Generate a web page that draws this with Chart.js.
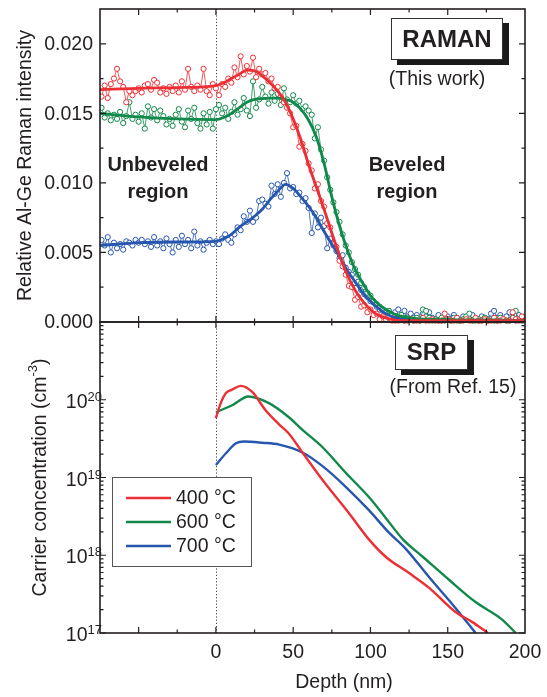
<!DOCTYPE html>
<html>
<head>
<meta charset="utf-8">
<script src="https://cdn.jsdelivr.net/npm/chart.js@4.4.1/dist/chart.umd.min.js"></script>
<style>
  html, body { margin: 0; padding: 0; background: #fff; }
  #wrap { position: relative; width: 547px; height: 697px; }
  #wrap canvas { position: absolute; left: 0; top: 0; }
</style>
</head>
<body>
<div id="wrap">
  <canvas id="raman-chart" width="547" height="697"></canvas>
  <canvas id="srp-chart" width="547" height="697"></canvas>
</div>
<script>
// ---- Raman panel: relative Al-Ge intensity, stored in units of 0.001 ----
const ramanDepth = [-74,-72,-70,-68,-66,-64,-62,-60,-58,-56,-54,-52,-50,-48,-46,-44,-42,-40,-38,-36,
  -34,-32,-30,-28,-26,-24,-22,-20,-18,-16,-14,-12,-10,-8,-6,-4,-2,
  0,2,4,6,8,10,12,14,16,18,20,22,24,26,28,30,32,34,36,38,40,42,44,46,48,50,52,54,56,58,
  60,62,64,66,68,70,72,74,76,78,80,82,84,86,88,90,92,94,96,98,100,102,104,106,108,110,112,114,116,118,
  120,122,124,126,128,130,132,134,136,138,140,142,144,146,148,150,152,154,156,158,160,162,164,166,168,170,
  172,174,176,178,180,182,184,186,188,190,192,194,196,198,200];

const raman400 = [16.2,17.0,16.1,17.1,17.5,18.2,17.3,16.9,15.8,16.6, 16.3,16.6,16.8,16.5,17.0,17.1,16.7,17.4,17.2,16.5,
  16.8,16.4,16.9,16.6,17.0,16.5,17.3,16.7,18.2,16.9, 16.6,17.0,16.7,18.2,16.6,16.3,17.1,
  16.8,16.3,17.1,16.9,17.5,17.2,18.3,17.6,19.1,17.8,18.4,18.0,19.0,17.6,18.2,17.8,
  17.9,17.3,17.5,16.8,16.9,16.2,15.8,15.4,15.0,14.0, 14.1,12.6,12.8,12.3,11.4,10.9,9.6,9.9,8.7,8.3,
  7.1,6.8,5.6,5.4,4.4,4.0,3.4,2.6,2.5,1.6, 1.8,1.1,1.2,0.7,0.9,0.5,0.6,0.2,0.4,0.2, 0.3,0.1,
  0.1,0.1,0.3,0.1,0.1,0.2,0.1,0.1,0.1,0.3, 0.1,0.1,0.2,0.1,0.1,0.1,0.6,0.2,0.1,0.1,
  0.3,0.1,0.1,0.2,0.1,0.1,0.3,0.1,0.1,0.2, 0.1,0.1,0.3,0.1,0.1,0.2,0.1,0.1,0.7,0.2, 0.1,0.4,0.1];

const raman600 = [15.4,14.7,15.0,14.5,14.9,14.6,15.1,14.3,14.8,15.8, 14.6,14.9,14.4,15.0,13.9,15.5,14.7,15.3,14.5,15.2,
  14.8,14.2,14.6,14.1,14.9,15.3,14.4,14.0,15.2,14.6, 15.4,14.3,13.9,15.0,14.2,15.1,13.9,
  15.3,15.6,15.0,15.4,14.6,15.1,15.8,14.9,15.3,16.1, 15.2,14.8,17.3,15.4,16.0,16.9,16.2,15.7,16.5,15.9, 16.4,
  15.6,16.8,16.0,15.8,16.3,15.7,15.9,15.3,15.5,15.2, 14.9,13.2,14.0,12.4,11.6,10.4,9.5,8.6,7.9,7.2,
  6.3,5.5,5.0,4.3,3.8,3.4,2.8,2.5,2.1,1.9, 1.5,1.3,1.1,0.9,0.7,0.8,0.5,
  0.4,0.2,0.5,0.1,0.3,0.2,0.1,0.3,0.1,0.9, 0.8,0.3,0.1,0.2,0.1,0.3,0.1,0.2,0.1,0.3,
  0.1,0.1,0.2,0.4,0.6,0.1,0.1,0.2,0.1,0.3, 0.1,0.2,0.1,0.1,0.3,0.2,0.1,0.1,0.3,0.8, 0.2,0.1,0.1];

const raman700 = [5.9,5.5,6.1,5.0,5.7,5.3,5.6,5.2,5.8,5.7, 5.5,5.9,5.7,5.9,5.6,5.8,5.4,6.1,5.5,5.8,
  5.3,6.0,5.6,5.0,5.9,5.4,6.2,5.6,5.9,5.3, 6.5,5.5,5.8,5.2,5.7,5.9,5.6,
  5.8,5.6,6.0,6.3,5.9,5.7,6.3,6.8,6.6,7.6, 7.2,8.0,7.2,7.5,8.7,8.8,8.5,8.3,9.8,9.2,
  9.9,9.0,10.0,10.7,9.6,9.7,9.2,9.3,8.7,8.9, 8.2,6.4,7.8,6.8,7.5,6.9,5.3,6.0,5.5,5.1,
  4.6,4.8,3.9,3.6,3.4,2.8,2.9,2.3,2.0,1.8, 1.5,1.4,1.1,0.9,0.8,0.6,0.7,0.4,
  0.7,0.9,0.5,0.8,0.4,0.6,0.3,0.5,0.2,0.6, 0.4,0.7,0.3,0.2,0.5,0.1,0.3,0.4,0.2,0.5,
  0.3,0.1,0.4,0.2,0.3,0.5,0.2,0.1,0.4,0.3, 0.2,0.6,0.8,0.3,0.5,0.2,0.4,0.7,0.3,0.1, 0.5,0.2,0.4];

// smooth fitted curves
const fitDepth = [-75,-50,-25,0,5,10,15,20,25,30,35,40,45,50,55,60,65,70,75,80,85,90,95,100,105,110,115,120,130,140,160,180,200];
const fit400 = [16.7,16.8,16.85,17.0,17.2,17.5,17.8,18.1,18.05,17.7,17.2,16.6,15.8,14.6,13.1,11.3,9.7,8.1,6.4,4.8,3.4,2.3,1.5,0.9,0.5,0.3,0.15,0.1,0.1,0.1,0.1,0.1,0.1];
const fit600 = [15.0,14.75,14.6,14.55,14.7,15.0,15.4,15.8,16.0,16.05,16.1,16.1,16.0,15.8,15.3,14.5,13.3,11.4,9.0,6.9,5.2,3.8,2.8,1.9,1.3,0.9,0.6,0.4,0.25,0.2,0.15,0.15,0.1];
const fit700 = [5.5,5.7,5.75,5.8,6.0,6.3,6.8,7.2,7.6,8.1,8.8,9.4,9.9,9.6,9.0,8.3,7.5,6.5,5.6,4.7,3.7,2.9,2.1,1.5,1.0,0.6,0.35,0.25,0.15,0.1,0.1,0.1,0.1];

const ramanTicks = [0, 5, 10, 15, 20];
const ramanMinor = [2.5, 7.5, 12.5, 17.5];
const ramanTickLabels = ['0.000', '0.005', '0.010', '0.015', '0.020'];

// ---- SRP panel: carrier concentration (cm^-3) ----
const srpLabels = ['400 °C', '600 °C', '700 °C'];
const srpDepth400 = [0, 3, 6.5, 10.5, 16, 23.5, 32, 41, 47, 56, 69, 86, 99, 110, 125, 138, 155, 166, 176];
const srp400 = [5.8e19, 8.9e19, 1.22e20, 1.35e20, 1.51e20, 1.26e20, 7.4e19, 4.8e19, 3.7e19, 2.1e19, 9.3e18, 3.5e18, 1.6e18, 9.5e17, 5.9e17, 3.8e17, 1.86e17, 1.38e17, 1.0e17];
const srpDepth600 = [0, 10.5, 21, 34, 47, 56, 69, 84, 99, 110, 121, 134, 151, 168, 185, 194];
const srp600 = [6.9e19, 8.5e19, 1.1e20, 9.1e19, 6.0e19, 4.1e19, 2.45e19, 1.15e19, 5.6e18, 3.0e18, 1.6e18, 9.5e17, 4.8e17, 2.5e17, 1.5e17, 1.0e17];
const srpDepth700 = [0, 6.5, 13, 18, 30, 41, 56, 69, 84, 99, 112, 123, 138, 155, 168];
const srp700 = [1.45e19, 2.05e19, 2.75e19, 2.9e19, 2.8e19, 2.65e19, 2.1e19, 1.4e19, 7.6e18, 3.8e18, 1.95e18, 1.2e18, 5.2e17, 2.1e17, 1.0e17];
const srpDecades = [17, 18, 19, 20];

const depthMajor = [-50, 0, 50, 100, 150];
const depthMinor = [-25, 25, 75, 125, 175];
const depthTicks = [0, 50, 100, 150, 200];
const depthTickLabels = ['0', '50', '100', '150', '200'];

const C400 = '#ec2f34', C600 = '#10894a', C700 = '#2656ad';
const ink = '#231f20';
const FONT = '"Liberation Sans", Arial, Helvetica, sans-serif';

function xy(xs, ys) { return xs.map((x, i) => ({ x: x, y: ys[i] })); }

function pointSet(label, ys, color) {
  return {
    label: label, data: xy(ramanDepth, ys),
    borderColor: color, borderWidth: 0.8,
    pointRadius: 2.6, pointBorderWidth: 1, pointBorderColor: color, pointBackgroundColor: '#fff',
    tension: 0, clip: { left: 0, top: 0, right: 0, bottom: 2 }
  };
}
function curveSet(label, xs, ys, color, w) {
  return {
    label: label, data: xy(xs, ys), borderColor: color, borderWidth: w,
    pointRadius: 0, cubicInterpolationMode: 'monotone', clip: 0
  };
}

function dottedZero(chart) {
  const { ctx, chartArea: a, scales: { x } } = chart;
  const px = Math.round(x.getPixelForValue(0)) + 0.5;
  ctx.save();
  ctx.strokeStyle = '#444';
  ctx.lineWidth = 1;
  ctx.setLineDash([1.2, 2]);
  ctx.beginPath(); ctx.moveTo(px, a.top); ctx.lineTo(px, a.bottom); ctx.stroke();
  ctx.restore();
}
function vTicks(ctx, a, px, len) {
  ctx.beginPath();
  ctx.moveTo(px, a.top); ctx.lineTo(px, a.top + len);
  ctx.moveTo(px, a.bottom); ctx.lineTo(px, a.bottom - len);
  ctx.stroke();
}
function hTicks(ctx, a, py, len) {
  ctx.beginPath();
  ctx.moveTo(a.left, py); ctx.lineTo(a.left + len, py);
  ctx.moveTo(a.right, py); ctx.lineTo(a.right - len, py);
  ctx.stroke();
}
function frame(chart) {
  const { ctx, chartArea: a, scales: { x } } = chart;
  ctx.strokeStyle = ink;
  ctx.lineWidth = 1.6;
  ctx.strokeRect(a.left, a.top, a.width, a.height);
  ctx.lineWidth = 1.2;
  depthMajor.forEach(v => vTicks(ctx, a, x.getPixelForValue(v), 6));
  depthMinor.forEach(v => vTicks(ctx, a, x.getPixelForValue(v), 3.5));
}
function shadowBox(ctx, x, y, w, h, text) {
  ctx.fillStyle = '#1a1a1a';
  ctx.fillRect(x + 6, y + 5, w, h);
  ctx.fillStyle = '#fff';
  ctx.fillRect(x, y, w, h);
  ctx.strokeStyle = '#333';
  ctx.lineWidth = 1;
  ctx.strokeRect(x + 0.5, y + 0.5, w - 1, h - 1);
  ctx.fillStyle = ink;
  ctx.font = 'bold 24px ' + FONT;
  ctx.textAlign = 'center';
  ctx.textBaseline = 'middle';
  ctx.fillText(text, x + w / 2, y + h / 2 + 1);
}

const ramanAxes = {
  id: 'ramanAxes',
  beforeDatasetsDraw(chart) { dottedZero(chart); },
  afterDraw(chart) {
    const { ctx, chartArea: a, scales: { y } } = chart;
    ctx.save();
    frame(chart);
    ramanTicks.forEach(v => hTicks(ctx, a, y.getPixelForValue(v), 6));
    ramanMinor.forEach(v => hTicks(ctx, a, y.getPixelForValue(v), 3.5));

    ctx.fillStyle = ink;
    ctx.font = '19.5px ' + FONT;
    ctx.textAlign = 'right';
    ctx.textBaseline = 'middle';
    ramanTicks.forEach((v, i) => ctx.fillText(ramanTickLabels[i], a.left - 7, y.getPixelForValue(v) + 1));

    ctx.save();
    ctx.translate(26, (a.top + a.bottom) / 2);
    ctx.rotate(-Math.PI / 2);
    ctx.textAlign = 'center';
    ctx.fillText('Relative Al-Ge Raman intensity', 0, 0);
    ctx.restore();

    ctx.font = 'bold 20px ' + FONT;
    ctx.textAlign = 'center';
    ctx.fillText('Unbeveled', 158, 165);
    ctx.fillText('region', 158, 192);
    ctx.fillText('Beveled', 407, 165);
    ctx.fillText('region', 407, 192);

    shadowBox(ctx, 391, 18, 112, 42, 'RAMAN');
    ctx.fillStyle = ink;
    ctx.font = '19.5px ' + FONT;
    ctx.textAlign = 'center';
    ctx.fillText('(This work)', 437, 80);
    ctx.restore();
  }
};

const srpAxes = {
  id: 'srpAxes',
  beforeDatasetsDraw(chart) { dottedZero(chart); },
  afterDraw(chart) {
    const { ctx, chartArea: a, scales: { x, y } } = chart;
    ctx.save();
    frame(chart);
    for (let d = 17; d <= 20; d++) {
      hTicks(ctx, a, y.getPixelForValue(Math.pow(10, d)), 6);
      for (let m = 2; m <= 9; m++) hTicks(ctx, a, y.getPixelForValue(m * Math.pow(10, d)), 3.5);
    }

    // decade labels 10^n
    ctx.fillStyle = ink;
    ctx.textBaseline = 'alphabetic';
    ctx.textAlign = 'left';
    srpDecades.forEach(d => {
      const py = y.getPixelForValue(Math.pow(10, d));
      ctx.font = '13px ' + FONT;
      const sw = ctx.measureText(String(d)).width;
      ctx.font = '19.5px ' + FONT;
      const tw = ctx.measureText('10').width;
      const right = a.left + 2;
      ctx.fillText('10', right - sw - tw, py + 8);
      ctx.font = '13px ' + FONT;
      ctx.fillText(String(d), right - sw, py + 1);
    });

    // depth labels and title
    ctx.font = '19.5px ' + FONT;
    ctx.textAlign = 'center';
    ctx.textBaseline = 'middle';
    depthTicks.forEach((v, i) => ctx.fillText(depthTickLabels[i], x.getPixelForValue(v), 653));
    ctx.fillText('Depth (nm)', 344, 683);

    // y title with superscript
    ctx.save();
    ctx.translate(41, (a.top + a.bottom) / 2);
    ctx.rotate(-Math.PI / 2);
    const main = 'Carrier concentration (cm', sup = '-3', tail = ')';
    ctx.font = '19.5px ' + FONT;
    const w1 = ctx.measureText(main).width, w3 = ctx.measureText(tail).width;
    ctx.font = '13px ' + FONT;
    const w2 = ctx.measureText(sup).width;
    let sx = -(w1 + w2 + w3) / 2;
    ctx.textAlign = 'left';
    ctx.font = '19.5px ' + FONT;
    ctx.fillText(main, sx, 0);
    ctx.font = '13px ' + FONT;
    ctx.fillText(sup, sx + w1, -8);
    ctx.font = '19.5px ' + FONT;
    ctx.fillText(tail, sx + w1 + w2, 0);
    ctx.restore();

    // legend
    const colors = [C400, C600, C700];
    ctx.fillStyle = '#fff';
    ctx.fillRect(112, 477, 139, 89);
    ctx.strokeStyle = '#555';
    ctx.lineWidth = 1;
    ctx.strokeRect(112.5, 477.5, 139, 89);
    [498, 522, 546].forEach((ry, i) => {
      ctx.strokeStyle = colors[i];
      ctx.lineWidth = 2.5;
      ctx.beginPath(); ctx.moveTo(126, ry); ctx.lineTo(171, ry); ctx.stroke();
      ctx.fillStyle = ink;
      ctx.font = '19.5px ' + FONT;
      ctx.textAlign = 'left';
      ctx.textBaseline = 'middle';
      ctx.fillText(srpLabels[i], 176, ry + 1);
    });

    shadowBox(ctx, 395, 335, 73, 35, 'SRP');
    ctx.fillStyle = ink;
    ctx.font = '19.5px ' + FONT;
    ctx.textAlign = 'center';
    ctx.textBaseline = 'middle';
    ctx.fillText('(From Ref. 15)', 453, 388);
    ctx.restore();
  }
};

const common = {
  responsive: false, animation: false, devicePixelRatio: 1, events: [],
  plugins: { legend: { display: false }, tooltip: { enabled: false } }
};

new Chart(document.getElementById('raman-chart'), {
  type: 'line',
  data: {
    datasets: [
      curveSet('400 °C fit', fitDepth, fit400, C400, 2.8),
      curveSet('600 °C fit', fitDepth, fit600, C600, 2.8),
      curveSet('700 °C fit', fitDepth, fit700, C700, 2.8),
      pointSet('400 °C', raman400, C400),
      pointSet('600 °C', raman600, C600),
      pointSet('700 °C', raman700, C700)
    ]
  },
  options: Object.assign({}, common, {
    layout: { padding: { left: 100, right: 22, top: 9, bottom: 375 } },
    scales: {
      x: { type: 'linear', min: -75, max: 200, display: false },
      y: { type: 'linear', min: 0, max: 22.5, display: false }
    }
  }),
  plugins: [ramanAxes]
});

new Chart(document.getElementById('srp-chart'), {
  type: 'line',
  data: {
    datasets: [
      curveSet(srpLabels[0], srpDepth400, srp400, C400, 2.4),
      curveSet(srpLabels[1], srpDepth600, srp600, C600, 2.4),
      curveSet(srpLabels[2], srpDepth700, srp700, C700, 2.4)
    ]
  },
  options: Object.assign({}, common, {
    layout: { padding: { left: 100, right: 22, top: 322, bottom: 64 } },
    scales: {
      x: { type: 'linear', min: -75, max: 200, display: false },
      y: { type: 'logarithmic', min: 1e17, max: 1e21, display: false }
    }
  }),
  plugins: [srpAxes]
});
</script>
</body>
</html>
